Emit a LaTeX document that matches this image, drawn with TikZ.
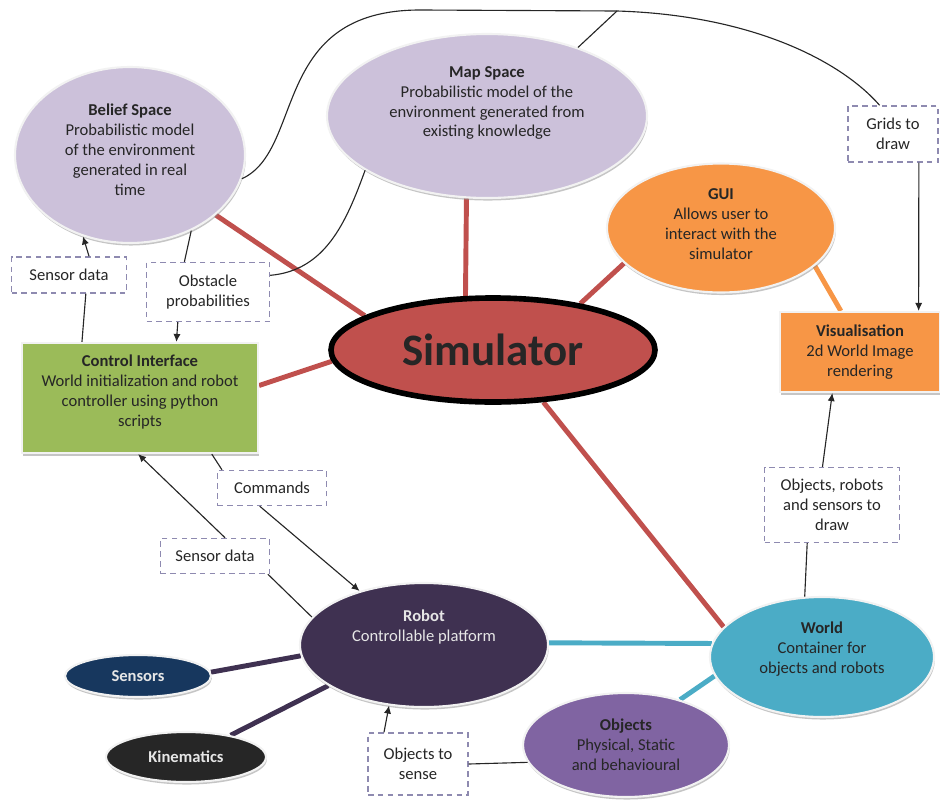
\documentclass[tikz,border=0pt]{standalone}
\usepackage{fontspec}
\setmainfont{Carlito}
\usetikzlibrary{arrows.meta, shapes.geometric, shadows, backgrounds}
\definecolor{space-fill}{HTML}{CCC1DA}
\definecolor{gui-fill}{HTML}{F79646}
\definecolor{sim-fill}{HTML}{C0504D}
\definecolor{ctrl-fill}{HTML}{9BBB59}
\definecolor{robot-fill}{HTML}{3F3151}
\definecolor{sensor-fill}{HTML}{17375E}
\definecolor{kin-fill}{HTML}{262626}
\definecolor{world-fill}{HTML}{4BACC6}
\definecolor{obj-fill}{HTML}{8064A2}
\definecolor{tag-border}{HTML}{8E8AB0}
\definecolor{ink}{HTML}{262626}
\definecolor{light-ink}{HTML}{E6E6E6}
\definecolor{rim}{HTML}{F2F2F2}
\tikzset{
  bubble/.style={
    ellipse, draw=rim, line width=1.5pt, inner sep=0pt, align=center,
    font=\fontsize{11.8}{14.2}\selectfont, text=ink,
    drop shadow={shadow xshift=0.6pt, shadow yshift=-1.8pt, fill=black!45}
  },
  bubble-dark/.style={bubble, text=light-ink},
  box/.style={
    rectangle, draw=rim, line width=1.5pt, inner sep=0pt, align=center,
    font=\fontsize{11.8}{14.2}\selectfont, text=ink,
    drop shadow={shadow xshift=1pt, shadow yshift=-2pt, fill=black!45}
  },
  core/.style={
    ellipse, draw=black, line width=4pt, fill=sim-fill, inner sep=0pt,
    font=\fontsize{32}{36}\selectfont\bfseries, text=ink
  },
  tag/.style={
    rectangle, draw=tag-border, line width=1pt, dash pattern=on 4pt off 3pt,
    fill=white, inner sep=0pt, align=center,
    font=\fontsize{11.8}{14.2}\selectfont, text=ink
  },
  link/.style={line width=3.5pt},
  flow/.style={draw=ink, line width=0.8pt},
  flow-arrow/.style={flow, -{Latex[length=2mm, width=1.8mm]}}
}

\begin{document}
\begin{tikzpicture}

  \useasboundingbox (0,0) rectangle (23.5,-20.175);

  % ---- Nodes ---------------------------------------------------------------
  \node[core, minimum width=8.1cm, minimum height=2.6cm] (sim) at (12.325,-8.75) {Simulator};

  \node[bubble, fill=space-fill, minimum width=5.75cm, minimum height=4.4cm, text depth=0.25cm] (belief) at (3.25,-3.875)
        {\textbf{Belief Space}\\Probabilistic model\\of the environment\\generated in real\\time};
  \node[bubble, fill=space-fill, minimum width=8cm, minimum height=4.1cm, text depth=0.72cm] (map) at (12.175,-2.9)
        {\textbf{Map Space}\\Probabilistic model of the\\environment generated from\\existing knowledge};
  \node[bubble, fill=gui-fill, minimum width=5.7cm, minimum height=3.225cm, text depth=0.2cm] (gui) at (18.025,-5.7)
        {\textbf{GUI}\\Allows user to\\interact with the\\simulator};
  \node[box, fill=gui-fill, minimum width=4cm, minimum height=2cm] (vis) at (21.5,-8.8)
        {\textbf{Visualisation}\\2d World Image\\rendering};
  \node[box, fill=ctrl-fill, minimum width=5.9cm, minimum height=2.75cm, text depth=0.37cm] (ctrl) at (3.5,-9.95)
        {\textbf{Control Interface}\\World initialization and robot\\controller using python\\scripts};

  \node[bubble-dark, fill=robot-fill, minimum width=6.2cm, minimum height=3.1cm, text depth=0.95cm] (robot) at (10.6,-16.125)
        {\textbf{Robot}\\Controllable platform};
  \node[bubble-dark, fill=sensor-fill, minimum width=3.65cm, minimum height=1.05cm] (sensors) at (3.45,-16.9)
        {\textbf{Sensors}};
  \node[bubble-dark, fill=kin-fill, minimum width=4cm, minimum height=1.25cm] (kin) at (4.65,-18.925)
        {\textbf{Kinematics}};
  \node[bubble, fill=world-fill, minimum width=5.6cm, minimum height=3cm, text depth=0.47cm] (world) at (20.55,-16.425)
        {\textbf{World}\\Container for\\objects and robots};
  \node[bubble, fill=obj-fill, minimum width=5.15cm, minimum height=2.6cm] (objects) at (15.65,-18.625)
        {\textbf{Objects}\\Physical, Static\\and behavioural};

  % ---- Data tags -----------------------------------------------------------
  \node[tag, minimum width=2.875cm, minimum height=0.9cm]  (sd-top) at (1.725,-6.875) {Sensor data};
  \node[tag, minimum width=3.075cm, minimum height=1.475cm] (obst)  at (5.2,-7.3)    {Obstacle\\probabilities};
  \node[tag, minimum width=2.25cm, minimum height=1.4cm]   (grids)  at (22.325,-3.35) {Grids to\\draw};
  \node[tag, minimum width=2.725cm, minimum height=0.875cm] (cmd)   at (6.8,-12.2)   {Commands};
  \node[tag, minimum width=2.725cm, minimum height=0.875cm] (sd-low) at (5.375,-13.9) {Sensor data};
  \node[tag, minimum width=3.375cm, minimum height=1.875cm] (ords)  at (20.8,-12.625) {Objects, robots\\and sensors to\\draw};
  \node[tag, minimum width=2.5cm, minimum height=1.55cm]   (ots)    at (10.45,-19.1) {Objects to\\sense};

  \coordinate (jn) at (15.425,-0.275);

  % ---- Structure links (behind the nodes) ----------------------------------
  \begin{scope}[on background layer]
    \draw[link, draw=sim-fill] (belief.325) -- (sim.165);
    \draw[link, draw=sim-fill] (map.256)    -- (sim.117);
    \draw[link, draw=sim-fill] (gui.200)    -- (sim.28);
    \draw[link, draw=sim-fill] (ctrl.6)     -- (sim.184);
    \draw[link, draw=sim-fill] (sim.314)    -- (world.163);
    \draw[link, draw=gui-fill] (gui.338)    -- (vis.115);
    \draw[link, draw=world-fill] (robot.1)  -- (world.173);
    \draw[link, draw=world-fill] (world.190) -- (objects.40);
    \draw[link, draw=robot-fill] (robot.185) -- (sensors.3);
    \draw[link, draw=robot-fill] (robot.203) -- (kin.26);
  \end{scope}

  % ---- Data flows ----------------------------------------------------------
  \draw[flow-arrow] (sd-top.43) -- (belief.240);
  \draw[flow]       (ctrl.136)  -- (sd-top.312);
  \draw[flow]       (belief.309) -- (obst.128);
  \draw[flow-arrow] (obst.225)  -- (ctrl.57);
  \draw[flow]       (obst.15) to[out=5, in=250] (map.204);
  \draw[flow]       (belief.348) .. controls (7.625,-3.75) and (6.75,-0.25) .. (10.5,-0.25)
                    -- (jn) .. controls (18.75,-0.375) and (21,-1.5) .. (grids.115);
  \draw[flow]       (map.37) -- (jn);
  \draw[flow-arrow] (grids.312) -- (vis.35);
  \draw[flow-arrow] (ords.104)  -- (vis.236);
  \draw[flow]       (world.106) -- (ords.237);
  \draw[flow]       (ctrl.322)  -- (cmd.160);
  \draw[flow-arrow] (cmd.236)   -- (robot.140);
  \draw[flow-arrow] (sd-low.61) -- (ctrl.268);
  \draw[flow]       (sd-low.341) -- (robot.166);
  \draw[flow-arrow] (ots.137)   -- (robot.240);
  \draw[flow]       (ots.east)  -- (objects.190);

\end{tikzpicture}
\end{document}
